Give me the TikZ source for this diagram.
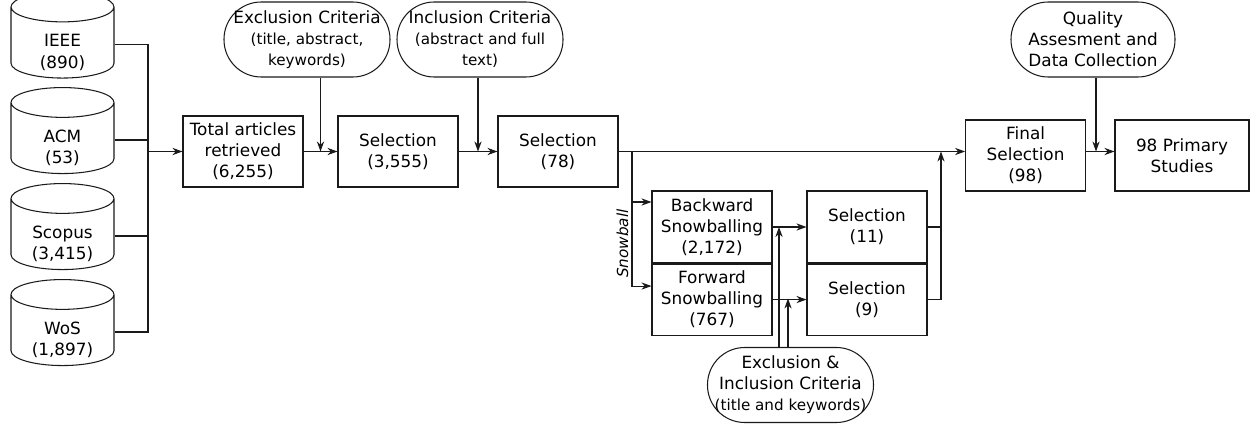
\documentclass[tikz,border=0pt]{standalone}
\usepackage{fontspec}
\setmainfont{DejaVu Sans}
\usetikzlibrary{arrows.meta,shapes.geometric,positioning,calc}
\definecolor{darkline}{HTML}{1A1A1A}
\newcommand{\mainsz}{\fontsize{12}{15}\selectfont}
\newcommand{\subsz}{\fontsize{10.8}{14}\selectfont}
\tikzset{
  procbox/.style={rectangle, draw=darkline, line width=0.75pt, align=center,
                  minimum width=3.0cm, minimum height=1.775cm, inner sep=2pt, font=\mainsz},
  dbcyl/.style={cylinder, shape border rotate=90, aspect=0.29, draw=darkline, line width=0.75pt,
                text width=2.5cm, minimum width=2.575cm, minimum height=2.15cm, inner sep=1pt},
  dbtxt/.style={align=center, inner sep=0pt, font=\mainsz},
  critoval/.style={rectangle, rounded corners=0.93cm, draw=darkline, line width=0.75pt,
                   align=center, minimum width=4.15cm, minimum height=1.875cm,
                   inner sep=1pt, font=\mainsz},
  snowlbl/.style={font=\subsz\itshape, rotate=90, inner sep=1pt},
  flow/.style={-{Stealth[length=2.5mm, width=1.8mm, inset=0.8mm]}, line width=0.75pt, draw=darkline},
  link/.style={line width=0.75pt, draw=darkline}
}
\def\rmain{6.8875}
\def\rfinal{6.7875}
\def\rcrit{9.6875}

\begin{document}
\begin{tikzpicture}
\useasboundingbox (0,0) rectangle (31.3,10.675);

%% Sources (cylinder outline, label a little below its centre)
\node[dbcyl] (ieee)   at (1.5625, 9.5625) {};
\node[dbcyl] (acm)    at (1.5625, 7.175)  {};
\node[dbcyl] (scopus) at (1.5625, 4.775)  {};
\node[dbcyl] (wos)    at (1.5625, 2.375)  {};
\node[dbtxt] (ieeetxt)   at ([yshift=-0.2cm]ieee.center)   {IEEE\\(890)};
\node[dbtxt] (acmtxt)    at ([yshift=-0.2cm]acm.center)    {ACM\\(53)};
\node[dbtxt] (scopustxt) at ([yshift=-0.2cm]scopus.center) {Scopus\\(3,415)};
\node[dbtxt] (wostxt)    at ([yshift=-0.2cm]wos.center)    {WoS\\(1,897)};

%% Main selection row
\node[procbox] (total) at (6.075, \rmain) {Total articles\\retrieved\\(6,255)};
\node[procbox] (sel1)  at (9.95,  \rmain) {Selection\\(3,555)};
\node[procbox] (sel2)  at (13.95, \rmain) {Selection\\(78)};
\node[procbox] (final) at (25.64, \rfinal) {Final\\Selection\\(98)};
\node[procbox, minimum width=3.35cm] (primary) at (29.55, \rfinal) {98 Primary\\Studies};

%% Criteria on top
\node[critoval] (excl) at (7.675, \rcrit)
  {Exclusion Criteria\\{\subsz (title, abstract,}\\{\subsz keywords)}};
\node[critoval] (incl) at (12.0, \rcrit)
  {Inclusion Criteria\\{\subsz (abstract and full}\\{\subsz text)}};
\node[critoval, minimum width=4.1cm] (quality) at (27.325, \rcrit)
  {Quality\\Assesment and\\Data Collection};

%% Snowballing
\node[procbox, minimum height=1.8cm] (back) at (17.8, 5.0) {Backward\\Snowballing\\(2,172)};
\node[procbox, below=0pt of back] (fwd) {Forward\\Snowballing\\(767)};
\node[procbox, minimum height=1.8cm] (sel11) at (21.675, 5.0) {Selection\\(11)};
\node[procbox, below=0pt of sel11] (sel9) {Selection\\(9)};
\node[critoval] (snowcrit) at (19.7625, 1.05)
  {Exclusion \&\\Inclusion Criteria\\{\subsz (title and keywords)}};
\node[snowlbl, anchor=south] (snowtxt) at (15.75, 4.5875) {Snowball};

%% Junction points
\coordinate (bus)   at (3.7, \rmain);
\coordinate (gap1)  at ($(total.east)!0.5!(sel1.west)$);
\coordinate (gap2)  at ($(sel1.east)!0.5!(sel2.west)$);
\coordinate (snow)  at (15.8, \rmain);
\coordinate (merge) at (23.525, \rmain);
\coordinate (gap3)  at (27.4, \rmain);
\coordinate (critA) at (19.475, 5.0);
\coordinate (critB) at (19.7, 3.2125);

%% Flow
% sources into one bus
\draw[link] (ieee.east) -| (bus);
\draw[link] (wos.east) -| (bus);
\draw[link] (acm.east) -- (acm.east -| bus);
\draw[link] (scopus.east) -- (scopus.east -| bus);
\draw[flow] (bus) -- (total.west);
% selection chain
\draw[flow] (total.east) -- (sel1.west);
\draw[flow] (sel1.east) -- (sel2.west);
\draw[flow] (sel2.east) -- (sel2.east -| final.west);
\draw[flow] (final.east |- gap3) -- (primary.west |- gap3);
\draw[flow] (excl.south -| gap1) -- (gap1);
\draw[flow] (incl.south -| gap2) -- (gap2);
\draw[flow] (quality.south -| gap3) -- (gap3);
% snowball branch
\draw[flow] (snow) |- ($(back.west)+(0,0.625)$);
\draw[flow] (snow) |- ($(fwd.west)+(0,0.3375)$);
\draw[flow] (back.east) -- (sel11.west);
\draw[flow] (fwd.east) -- (sel9.west);
\draw[flow] (snowcrit.north -| critA) -- (critA);
\draw[flow] (snowcrit.north -| critB) -- (critB);
% back into the main line
\draw[link] (sel11.east) -- (sel11.east -| merge);
\draw[flow] (sel9.east) -| (merge);

\end{tikzpicture}
\end{document}
